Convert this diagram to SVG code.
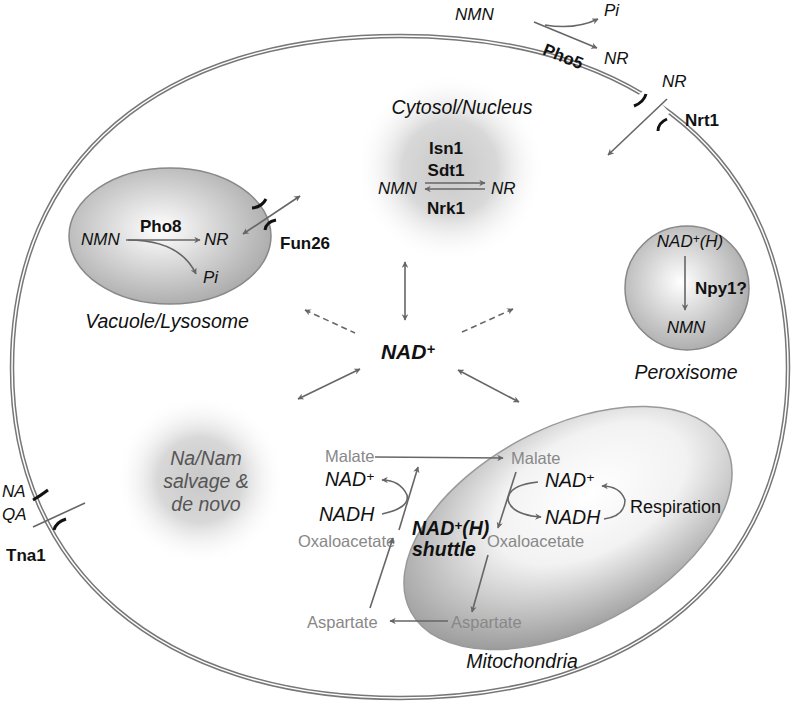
<svg xmlns="http://www.w3.org/2000/svg" width="800" height="703" viewBox="0 0 800 703">
<defs>
<radialGradient id="glow"><stop offset="0" stop-color="#c8c8c8"/><stop offset="0.5" stop-color="#d8d8d8"/><stop offset="1" stop-color="#fff" stop-opacity="0"/></radialGradient>
<radialGradient id="org" cx="0.45" cy="0.45" r="0.6"><stop offset="0" stop-color="#fff"/><stop offset="1" stop-color="#a8a8a8"/></radialGradient>
<radialGradient id="mito" cx="0.6" cy="0.4" r="0.65"><stop offset="0" stop-color="#fff"/><stop offset="0.45" stop-color="#f2f2f2"/><stop offset="1" stop-color="#9a9a9a"/></radialGradient>
<marker id="a" viewBox="0 0 10 10" refX="9" refY="5" markerWidth="4" markerHeight="4" orient="auto-start-reverse"><path d="M0,0 L10,5 L0,10 L3,5 Z" fill="#666"/></marker>
</defs>
<style>
text{font-family:"Liberation Sans",Arial,sans-serif;font-size:17px;fill:#111}
.i{font-style:italic}.b{font-weight:bold}.g{fill:#888;font-size:16.5px}
.L{font-size:19.5px}
.s{font-size:70%;baseline-shift:35%}
.ln{fill:none;stroke:#666;stroke-width:1.6}
.d{stroke-dasharray:6,4}
.tp{fill:none;stroke:#111;stroke-width:3}
</style>
<g id="cell">
<path d="M400,36 C640,36 788,160 788,368 C788,570 640,698 400,698 C160,698 12,570 12,368 C12,160 160,36 400,36 Z" fill="none" stroke="#777" stroke-width="4.5"/>
<path d="M400,36 C640,36 788,160 788,368 C788,570 640,698 400,698 C160,698 12,570 12,368 C12,160 160,36 400,36 Z" fill="none" stroke="#fff" stroke-width="1.5"/>
<path d="M643,91 L665,117" stroke="#fff" stroke-width="12"/>
<path d="M18,495 L26,527" stroke="#fff" stroke-width="12"/>
</g>
<g id="cytosol"><circle cx="450" cy="168" r="95" fill="url(#glow)"/>
<text x="462" y="114" text-anchor="middle" class="i L">Cytosol/Nucleus</text>
<text x="446" y="154" text-anchor="middle" class="b">Isn1</text>
<text x="446" y="176" text-anchor="middle" class="b">Sdt1</text>
<text x="446" y="214" text-anchor="middle" class="b">Nrk1</text>
<text x="378" y="194" class="i">NMN</text><text x="491" y="194" class="i">NR</text>
</g>
<g id="nanam"><circle cx="200" cy="480" r="85" fill="url(#glow)"/>
<text x="206" y="465" text-anchor="middle" class="i L" style="fill:#555">Na/Nam</text>
<text x="206" y="488" text-anchor="middle" class="i L" style="fill:#555">salvage &amp;</text>
<text x="206" y="511" text-anchor="middle" class="i L" style="fill:#555">de novo</text>
</g>
<g id="vacuole"><ellipse cx="170" cy="236" rx="101" ry="68" fill="url(#org)" stroke="#888" stroke-width="1.5"/>
<text x="81" y="245" class="i">NMN</text><text x="140" y="232" class="b">Pho8</text>
<text x="204" y="245" class="i">NR</text><text x="203" y="283" class="i">Pi</text>
<text x="167" y="328" text-anchor="middle" class="i L">Vacuole/Lysosome</text>
<text x="280" y="249" class="b">Fun26</text>
<path class="tp" d="M252,208 Q262,207 266,199"/><path class="tp" d="M265,230 Q266,222 276,220"/>
</g>
<g id="peroxisome"><circle cx="687" cy="288" r="62" fill="url(#org)" stroke="#888" stroke-width="1.5"/>
<text x="690" y="247" text-anchor="middle" class="i">NAD<tspan class="s">+</tspan>(H)</text>
<text x="695" y="294" class="b">Npy1?</text>
<text x="686" y="333" text-anchor="middle" class="i">NMN</text>
<text x="686" y="379" text-anchor="middle" class="i L">Peroxisome</text>
</g>
<g id="mitochondria"><ellipse cx="568" cy="528" rx="178" ry="100" transform="rotate(-28 568 528)" fill="url(#mito)" stroke="#999" stroke-width="1.5"/>
<text x="522" y="668" text-anchor="middle" class="i L">Mitochondria</text>
<text x="412" y="535" class="b i L">NAD<tspan class="s">+</tspan>(H)</text><text x="412" y="556" class="b i L">shuttle</text>
<text x="545" y="487" class="i L">NAD<tspan class="s">+</tspan></text><text x="545" y="524" class="i L">NADH</text>
<text x="630" y="513" style="font-size:18px">Respiration</text>
<text x="325" y="486" class="i L">NAD<tspan class="s">+</tspan></text><text x="319" y="521" class="i L">NADH</text>
<text x="325" y="462" class="g">Malate</text><text x="511" y="464" class="g">Malate</text>
<text x="298" y="547" class="g">Oxaloacetate</text><text x="487" y="547" class="g">Oxaloacetate</text>
<text x="307" y="628" class="g">Aspartate</text><text x="451" y="628" class="g">Aspartate</text>
</g>
<g id="nad"><text x="408" y="359" text-anchor="middle" class="b i" style="font-size:21px">NAD<tspan class="s">+</tspan></text></g>
<g id="outside">
<text x="455" y="20" class="i">NMN</text><text x="604" y="16" class="i">Pi</text>
<text x="604" y="64" class="i">NR</text><text x="662" y="87" class="i">NR</text>
<text x="685" y="126" class="b">Nrt1</text>
<text x="543" y="62" class="b" transform="rotate(22 563 55)">Pho5</text>
<path class="tp" d="M634,106 Q644,102 646,94"/><path class="tp" d="M658,131 Q658,123 667,119"/>
<text x="2" y="497" class="i">NA</text><text x="2" y="520" class="i">QA</text>
<text x="6" y="561" class="b">Tna1</text>
<path class="tp" d="M33,500 Q40,496 48,490"/><path class="tp" d="M54,530 Q56,522 66,519"/>
</g>
<g id="connectors">
<path class="ln" marker-end="url(#a)" d="M534,22 L597,48"/>
<path class="ln" marker-end="url(#a)" d="M545,25 Q575,30 598,19"/>
<path class="ln" marker-end="url(#a)" d="M667,99 L608,155"/>
<line class="ln" x1="33" y1="527" x2="85" y2="503"/>
<path class="ln" marker-end="url(#a)" d="M425,183 L485,183"/>
<path class="ln" marker-end="url(#a)" d="M485,189 L425,189"/>
<path class="ln" marker-end="url(#a)" d="M126,240 L200,240"/>
<path class="ln" marker-end="url(#a)" d="M128,240 Q180,240 196,274"/>
<path class="ln" marker-start="url(#a)" marker-end="url(#a)" d="M243,234 L300,196"/>
<path class="ln" marker-end="url(#a)" d="M685,256 L685,310"/>
<path class="ln" marker-start="url(#a)" marker-end="url(#a)" d="M405,262 L405,320"/>
<path class="ln d" marker-start="url(#a)" d="M305,310 L355,333"/>
<path class="ln d" marker-start="url(#a)" d="M513,309 L460,333"/>
<path class="ln" marker-start="url(#a)" marker-end="url(#a)" d="M298,399 L360,369"/>
<path class="ln" marker-start="url(#a)" marker-end="url(#a)" d="M458,370 L519,402"/>
<path class="ln" marker-end="url(#a)" d="M375,457 L503,458"/>
<path class="ln" marker-end="url(#a)" d="M516,472 L498,528"/>
<path class="ln" marker-end="url(#a)" d="M538,482 Q508,485 508,500 Q512,515 541,517"/>
<path class="ln" marker-end="url(#a)" d="M604,519 Q625,516 625,500 Q620,486 602,486"/>
<path class="ln" marker-end="url(#a)" d="M488,555 L472,612"/>
<path class="ln" marker-end="url(#a)" d="M448,621 L390,621"/>
<path class="ln" marker-end="url(#a)" d="M370,608 L393,538"/>
<path class="ln" marker-end="url(#a)" d="M399,530 L418,467"/>
<path class="ln" marker-end="url(#a)" d="M382,514 Q410,508 407,495 Q400,480 382,480"/>
</g>
</svg>
